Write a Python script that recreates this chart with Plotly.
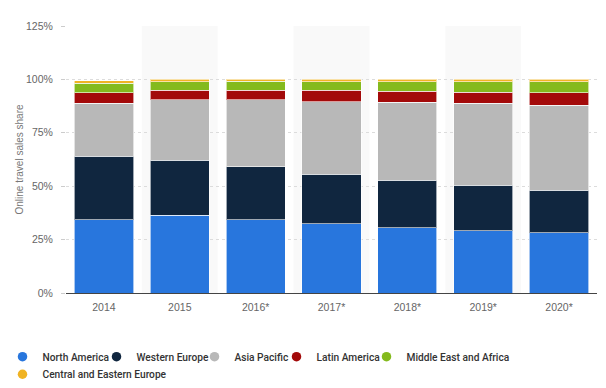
import plotly.graph_objects as go

years = ["2014", "2015", "2016*", "2017*", "2018*", "2019*", "2020*"]
north_america = [34.3, 36.3, 34.2, 32.4, 30.5, 29.1, 28.1]
western_europe = [29.8, 25.8, 24.8, 23.1, 22.2, 21.4, 19.9]
asia_pacific = [24.8, 28.3, 31.4, 34.0, 36.5, 38.4, 40.0]
latin_america = [4.8, 4.6, 4.6, 5.5, 5.3, 5.2, 5.7]
middle_east_africa = [4.6, 3.8, 4.2, 3.8, 4.3, 4.7, 5.1]
central_eastern_europe = [1.1, 1.2, 0.8, 1.2, 1.2, 1.2, 1.2]

names = ["North America", "Western Europe", "Asia Pacific", "Latin America",
         "Middle East and Africa", "Central and Eastern Europe"]
values = [north_america, western_europe, asia_pacific, latin_america,
          middle_east_africa, central_eastern_europe]
colors = ["#2876dd", "#10263f", "#b8b8b8", "#a30a0a", "#84ba1d", "#f0b323"]

# legend item placement (left edge in px, row)
legend_left_px = [2.5, 96.5, 194.5, 276.5, 366.5, 2.5]
legend_row = [0, 0, 0, 0, 0, 1]

fig = go.Figure()
for name, vals, color in zip(names, values, colors):
    fig.add_trace(go.Bar(
        x=years, y=vals, name=name, showlegend=False,
        marker=dict(color=color, line=dict(color="rgba(255,255,255,0.6)", width=1)),
    ))

legend_font = dict(family="Roboto, sans-serif", size=10.2, color="#333", weight=500)
PLOT_L, PLOT_W = 66, 531
legend_layout = {}
for i, (name, color) in enumerate(zip(names, colors)):
    key = "legend" if i == 0 else f"legend{i + 1}"
    fig.add_trace(go.Scatter(
        x=[None], y=[None], mode="markers", name=name, legend=key,
        marker=dict(symbol="circle", size=9.5, color=color),
    ))
    legend_layout[key] = dict(
        orientation="h", xanchor="left", yanchor="top",
        x=(legend_left_px[i] - PLOT_L) / PLOT_W,
        y=-0.184 if legend_row[i] == 0 else -0.25,
        font=legend_font, itemwidth=30, bgcolor="rgba(0,0,0,0)",
    )

shapes = []
for i in range(1, len(years), 2):
    shapes.append(dict(type="rect", xref="x", yref="paper", x0=i - 0.5, x1=i + 0.5,
                       y0=0, y1=1, fillcolor="#f9f9f9", line=dict(width=0), layer="below"))

fig.update_layout(
    width=606, height=388,
    barmode="stack", bargap=0.22,
    margin=dict(l=66, r=9, t=26, b=95, autoexpand=False),
    paper_bgcolor="white", plot_bgcolor="white",
    font=dict(family="Liberation Sans, Arial, sans-serif", color="#666", size=10.5),
    shapes=shapes,
    xaxis=dict(
        showgrid=False, showline=True, linecolor="#444", linewidth=1,
        ticks="", tickfont=dict(size=10.5, color="#666"), automargin=False,
        ticklabelstandoff=4,
    ),
    yaxis=dict(
        range=[0, 125], tickvals=[0, 25, 50, 75, 100, 125],
        ticktext=["0%", "25%", "50%", "75%", "100%", "125%"],
        showgrid=True, gridcolor="#dcdcdc", griddash="dot", gridwidth=1,
        zeroline=False, ticks="outside", ticklen=4, tickcolor="#ccc",
        ticklabelstandoff=6, automargin=False,
        title=dict(text="Online travel sales share", font=dict(size=10, color="#777"), standoff=0),
    ),
    **legend_layout,
)

fig.write_html("out.html", post_script="document.body.style.margin='0px';",
               config={"displayModeBar": False})
